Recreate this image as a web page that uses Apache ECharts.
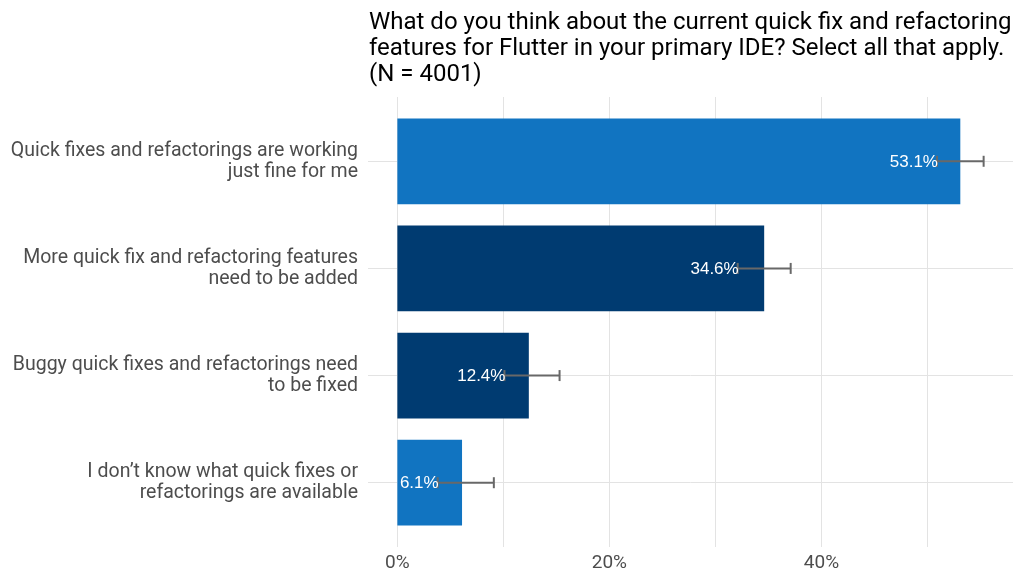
<!DOCTYPE html>
<html>
<head>
<meta charset="utf-8">
<script src="https://cdn.jsdelivr.net/npm/echarts@6/dist/echarts.min.js"></script>
<style>
    html, body { margin: 0; padding: 0; background: #fff; }
    #chart { width: 1024px; height: 585px; }
</style>
</head>
<body>
<div id="chart"></div>
<script>
var titleText = 'What do you think about the current quick fix and refactoring\nfeatures for Flutter in your primary IDE? Select all that apply.\n(N = 4001)';
var categories = [
    'Quick fixes and refactorings are working\njust fine for me',
    'More quick fix and refactoring features\nneed to be added',
    'Buggy quick fixes and refactorings need\nto be fixed',
    'I don\u2019t know what quick fixes or\nrefactorings are available'
];
var values = [53.1, 34.6, 12.4, 6.1];
var errLow = [50.9, 32.1, 10.1, 3.8];
var errHigh = [55.3, 37.1, 15.3, 9.1];
var barColors = ['#1174c1', '#003b71', '#003b71', '#1174c1'];
var xLabelTicks = [0, 20, 40];
var xGridTicks = [0, 10, 20, 30, 40, 50];

var chart = echarts.init(document.getElementById('chart'));

var rows = values.map(function (v, i) {
    return [v, i, errLow[i], errHigh[i]];
});

function renderBar(params, api) {
    var i = api.value(1);
    var p0 = api.coord([0, i - 0.4]);
    var p1 = api.coord([api.value(0), i + 0.4]);
    return {
        type: 'rect',
        shape: {
            x: p0[0],
            y: Math.min(p0[1], p1[1]),
            width: p1[0] - p0[0],
            height: Math.abs(p1[1] - p0[1])
        },
        style: { fill: barColors[i] }
    };
}

function renderError(params, api) {
    var i = api.value(1);
    var lo = api.coord([api.value(2), i]);
    var hi = api.coord([api.value(3), i]);
    var cap = 5.5;
    var lineStyle = { stroke: '#686868', lineWidth: 2 };
    return {
        type: 'group',
        children: [
            { type: 'line', shape: { x1: lo[0], y1: lo[1], x2: hi[0], y2: hi[1] }, style: lineStyle },
            { type: 'line', shape: { x1: lo[0], y1: lo[1] - cap, x2: lo[0], y2: lo[1] + cap }, style: lineStyle },
            { type: 'line', shape: { x1: hi[0], y1: hi[1] - cap, x2: hi[0], y2: hi[1] + cap }, style: lineStyle },
            {
                type: 'text',
                x: lo[0] + 1,
                y: lo[1] + 1,
                style: {
                    text: api.value(0).toFixed(1) + '%',
                    fill: '#ffffff',
                    font: '17px "Liberation Sans", Arial, sans-serif',
                    align: 'right',
                    verticalAlign: 'middle'
                }
            }
        ]
    };
}

chart.setOption({
    animation: false,
    title: {
        text: titleText,
        left: 364,
        top: 5,
        textStyle: {
            fontFamily: 'Roboto',
            fontSize: 24,
            fontWeight: 'normal',
            lineHeight: 26,
            color: '#000000'
        }
    },
    grid: { left: 368, right: 11, top: 97, bottom: 38, containLabel: false },
    xAxis: {
        type: 'value',
        min: -2.77,
        max: 58.07,
        axisLine: { show: false },
        axisTick: { show: false, customValues: xGridTicks },
        axisLabel: {
            customValues: xLabelTicks,
            formatter: function (v) { return v + '%'; },
            fontFamily: 'Roboto',
            fontSize: 19,
            color: '#4d4d4d',
            margin: 7
        },
        splitLine: { show: true, lineStyle: { color: '#e3e3e3', width: 1 } }
    },
    yAxis: {
        type: 'value',
        inverse: true,
        min: -0.6,
        max: 3.6,
        axisLine: { show: false },
        axisTick: { show: false, customValues: [0, 1, 2, 3] },
        axisLabel: {
            customValues: [0, 1, 2, 3],
            formatter: function (v) { return categories[v]; },
            fontFamily: 'Roboto',
            fontSize: 19.5,
            lineHeight: 21,
            padding: [4, 0, 0, 0],
            color: '#4d4d4d',
            align: 'right',
            margin: 10
        },
        splitLine: { show: true, lineStyle: { color: '#e3e3e3', width: 1 } }
    },
    series: [
        {
            type: 'custom',
            name: 'share',
            renderItem: renderBar,
            encode: { x: 0, y: 1 },
            data: rows,
            z: 2
        },
        {
            type: 'custom',
            name: 'error',
            renderItem: renderError,
            encode: { x: [0, 2, 3], y: 1 },
            data: rows,
            z: 3
        }
    ]
});
</script>
</body>
</html>
